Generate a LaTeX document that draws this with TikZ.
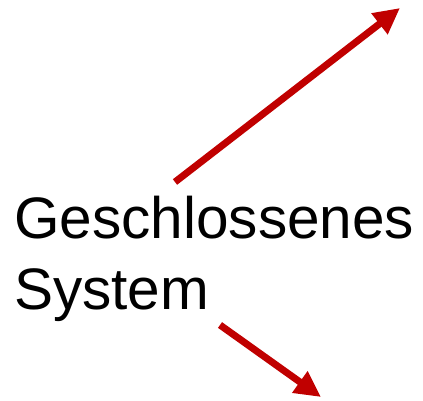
\documentclass[tikz,border=0pt]{standalone}
\usepackage{fontspec}
\setmainfont{Liberation Sans}
\usetikzlibrary{arrows.meta}
\usetikzlibrary{positioning}
\definecolor{pfeilrot}{HTML}{C00000}
\tikzset{
  pfeil/.style={draw=pfeilrot,line width=7pt,
    -{Triangle[length=26pt,width=25pt,fill=pfeilrot]}},
  wort/.style={font=\fontsize{58.5}{71}\selectfont,anchor=base west,inner sep=0pt}
}

\begin{document}
\begin{tikzpicture}[x=1pt,y=-1pt]
  %
  \useasboundingbox (0,0) rectangle (423,400);

  \node[wort] (geschl) at (14,238) {Geschlossenes};
  \node[wort] (system) at (14,309) {System};

  % Pfeile
  \coordinate (obenstart) at (175,182);
  \coordinate (obenziel) at (400,8);
  \coordinate (untenstart) at (220,325);
  \coordinate (untenziel) at (321,397);

  \draw[pfeil] (obenstart) -- (obenziel);
  \draw[pfeil] (untenstart) -- (untenziel);

\end{tikzpicture}
\end{document}
